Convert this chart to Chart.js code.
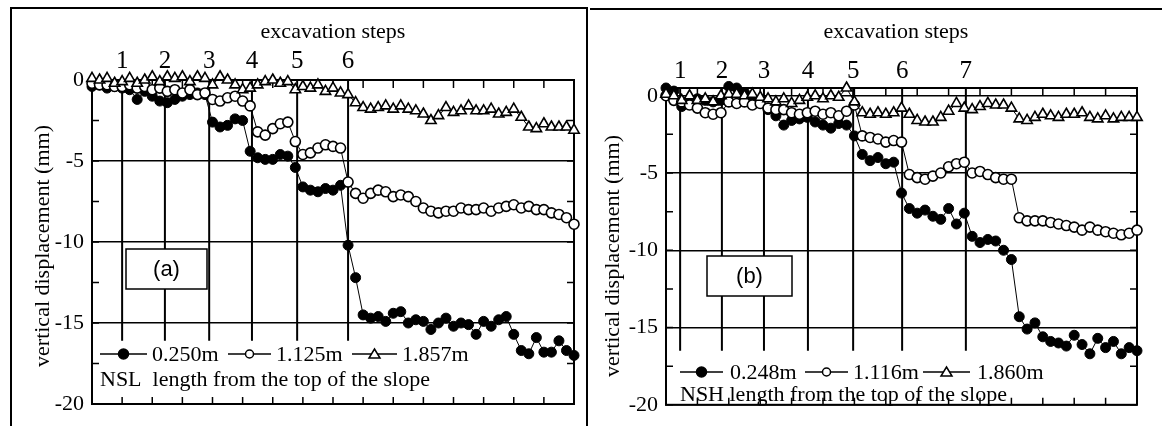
<!DOCTYPE html>
<html lang="en">
<head>
<meta charset="UTF-8">
<title>Vertical displacement during excavation</title>
<script src="https://cdn.jsdelivr.net/npm/chart.js@4.4.2/dist/chart.umd.min.js"></script>
<style>
  body { margin: 0; width: 1162px; height: 426px; background: #fff; position: relative; overflow: hidden; }
  .panel { position: absolute; top: 0; height: 426px; }
  #panelA { left: 0; width: 588px; }
  #panelB { left: 588px; width: 574px; }
  .rule { position: absolute; background: #000; }
</style>
</head>
<body>
  <div class="rule" style="left:10px; top:7px; width:578px; height:2px"></div>
  <div class="rule" style="left:10px; top:7px; width:2px; height:419px"></div>
  <div class="rule" style="left:586px; top:7px; width:2px; height:419px"></div>
  <div class="rule" style="left:590px; top:8px; width:572px; height:2px"></div>
  <div class="panel" id="panelA"><canvas id="chartA" width="588" height="426"></canvas></div>
  <div class="panel" id="panelB"><canvas id="chartB" width="574" height="426"></canvas></div>

<script>
// ---- panel (a) : NSL ----
const timeA = [0,0.25,0.5,0.75,1,1.25,1.5,1.75,2,2.25,2.5,2.75,3,3.25,3.5,3.75,4,4.25,4.5,4.75,
  5,5.25,5.5,5.75,6,6.25,6.5,6.75,7,7.25,7.5,7.75,8,8.25,8.5,8.75,9,9.25,9.5,9.75,
  10,10.25,10.5,10.75,11,11.25,11.5,11.75,12,12.25,12.5,12.75,13,13.25,13.5,13.75,14,14.25,14.5,14.75,
  15,15.25,15.5,15.75,16];
const nsl0250 = [-0.4,-0.3,-0.5,-0.4,-0.5,-0.6,-1.2,-0.7,-1.0,-1.3,
  -1.4,-1.2,-1.0,-0.9,-0.8,-0.9,-2.6,-2.9,-2.8,-2.4,
  -2.5,-4.4,-4.8,-4.9,-4.9,-4.6,-4.7,-5.4,-6.6,-6.8,
  -6.9,-6.7,-6.8,-6.5,-10.2,-12.2,-14.5,-14.7,-14.6,-14.9,
  -14.4,-14.3,-15.0,-14.8,-14.9,-15.4,-15.0,-14.7,-15.2,-15.0,
  -15.1,-15.7,-14.9,-15.2,-14.8,-14.6,-15.7,-16.7,-16.9,-15.9,
  -16.8,-16.8,-16.1,-16.7,-17.0];
const nsl1125 = [-0.2,-0.3,-0.3,-0.4,-0.4,-0.3,-0.5,-0.4,-0.6,-0.5,
  -0.7,-0.6,-0.8,-0.6,-0.9,-0.8,-1.2,-1.3,-1.1,-1.0,
  -1.3,-1.6,-3.2,-3.4,-3.0,-2.7,-2.6,-3.8,-4.6,-4.5,
  -4.2,-4.0,-4.1,-4.2,-6.3,-7.0,-7.3,-7.0,-6.8,-6.9,
  -7.2,-7.1,-7.2,-7.5,-7.9,-8.1,-8.2,-8.1,-8.1,-7.9,
  -8.0,-8.0,-7.9,-8.1,-7.9,-7.8,-7.7,-7.9,-7.8,-8.0,
  -8.0,-8.2,-8.3,-8.5,-8.9];
const nsl1857 = [0.1,0.0,0.1,-0.2,-0.1,0.1,-0.2,0.0,0.2,-0.1,
  0.2,0.1,0.2,-0.1,0.2,0.1,-0.3,0.2,0.0,-0.3,
  -0.6,-0.5,-0.3,-0.1,0.0,-0.2,-0.1,-0.6,-0.4,-0.5,
  -0.3,-0.7,-0.5,-0.8,-0.9,-1.4,-1.7,-1.8,-1.7,-1.6,
  -1.8,-1.6,-1.8,-1.9,-2.1,-2.5,-2.2,-1.7,-2.0,-1.9,
  -1.6,-1.9,-1.9,-1.8,-2.1,-2.0,-1.8,-2.3,-2.9,-3.0,
  -2.7,-2.9,-2.9,-2.9,-3.1];
const stepsA = [1.0, 2.42, 3.89, 5.31, 6.81, 8.5];
const stepLabelsA = ['1','2','3','4','5','6'];
const namesA = ['0.250m', '1.125m', '1.857m'];

// ---- panel (b) : NSH ----
const timeB = [0,0.25,0.5,0.75,1,1.25,1.5,1.75,2,2.25,2.5,2.75,3,3.25,3.5,3.75,4,4.25,4.5,4.75,
  5,5.25,5.5,5.75,6,6.25,6.5,6.75,7,7.25,7.5,7.75,8,8.25,8.5,8.75,9,9.25,9.5,9.75,
  10,10.25,10.5,10.75,11,11.25,11.5,11.75,12,12.25,12.5,12.75,13,13.25,13.5,13.75,14,14.25,14.5,14.75,15];
const nsh0248 = [0.5,0.3,-0.7,-0.3,-0.2,-0.3,-0.4,-0.3,0.6,0.5,
  0.2,-0.2,-0.3,-0.9,-1.3,-1.9,-1.6,-1.5,-1.4,-1.7,
  -1.9,-2.1,-1.8,-1.9,-2.6,-3.8,-4.2,-4.0,-4.4,-4.3,
  -6.3,-7.3,-7.6,-7.4,-7.8,-8.0,-7.3,-8.3,-7.6,-9.1,
  -9.5,-9.3,-9.4,-10.0,-10.6,-14.3,-15.1,-14.7,-15.6,-15.9,
  -16.0,-16.2,-15.5,-16.1,-16.7,-15.7,-16.3,-15.9,-16.7,-16.3,
  -16.5];
const nsh1116 = [0.0,-0.3,-0.4,-0.6,-0.8,-1.1,-1.2,-1.1,-0.4,-0.5,
  -0.4,-0.6,-0.5,-0.8,-0.9,-0.9,-1.1,-1.2,-1.1,-1.0,
  -1.2,-1.1,-1.3,-1.0,-0.6,-2.6,-2.7,-2.8,-3.0,-2.9,
  -3.0,-5.1,-5.3,-5.4,-5.2,-5.0,-4.6,-4.4,-4.3,-5.0,
  -4.9,-5.1,-5.3,-5.4,-5.4,-7.9,-8.1,-8.1,-8.1,-8.2,
  -8.3,-8.4,-8.5,-8.7,-8.5,-8.7,-8.8,-8.9,-9.0,-8.9,
  -8.7];
const nsh1860 = [0.1,0.0,-0.3,0.0,-0.3,-0.2,-0.4,0.0,0.1,0.1,
  0.0,0.1,-0.1,-0.2,-0.4,-0.2,-0.5,-0.3,-0.1,0.0,
  -0.2,0.0,-0.1,0.5,-0.4,-1.1,-1.2,-1.1,-1.2,-1.1,
  -0.8,-1.2,-1.6,-1.7,-1.7,-1.4,-1.0,-0.5,-0.8,-0.9,
  -0.7,-0.5,-0.6,-0.6,-0.8,-1.5,-1.6,-1.4,-1.2,-1.3,
  -1.4,-1.2,-1.2,-1.1,-1.4,-1.5,-1.3,-1.5,-1.4,-1.4,
  -1.4];
const stepsB = [0.45, 1.78, 3.12, 4.52, 5.96, 7.52, 9.55];
const stepLabelsB = ['1','2','3','4','5','6','7'];
const namesB = ['0.248m', '1.116m', '1.860m'];

// shared y ticks (labels only on multiples of 5)
const yTickVals = [-20, -17.5, -15, -12.5, -10, -7.5, -5, -2.5, 0];

const SERIF = "'Liberation Serif', 'Times New Roman', serif";
const SANS = "'Liberation Sans', Arial, sans-serif";

// marker look for the three gauges: filled circle, open circle, open triangle
const markers = [
  { pointStyle: 'circle', pointRadius: 5, pointBackgroundColor: '#000', pointBorderWidth: 1, order: 3 },
  { pointStyle: 'circle', pointRadius: 5, pointBackgroundColor: '#fff', pointBorderWidth: 1.6, order: 2 },
  { pointStyle: 'triangle', pointRadius: 6, pointBackgroundColor: '#fff', pointBorderWidth: 1.6, order: 1 }
];

function drawMarker(ctx, k, x, y) {
  ctx.beginPath();
  if (k === 2) {
    ctx.moveTo(x, y - 5); ctx.lineTo(x + 5.5, y + 4); ctx.lineTo(x - 5.5, y + 4); ctx.closePath();
  } else {
    ctx.arc(x, y, k === 0 ? 5 : 4, 0, Math.PI * 2);
  }
  ctx.fillStyle = k === 0 ? '#000' : '#fff';
  ctx.fill();
  ctx.lineWidth = 1.5;
  ctx.stroke();
}

function decor(p) {
  return {
    id: 'decor',
    beforeDatasetsDraw(chart) {
      const { ctx, chartArea: a, scales: { x, y } } = chart;
      ctx.save();
      ctx.strokeStyle = '#000';
      // excavation step lines
      ctx.lineWidth = 2;
      p.steps.forEach(s => {
        const px = x.getPixelForValue(s);
        ctx.beginPath();
        ctx.moveTo(px, a.top);
        ctx.lineTo(px, y.getPixelForValue(p.stepEnd));
        ctx.stroke();
      });
      // inward tick marks
      ctx.lineWidth = 1.5;
      for (let t = x.min; t <= x.max; t++) {
        const px = x.getPixelForValue(t);
        ctx.beginPath();
        ctx.moveTo(px, a.top); ctx.lineTo(px, a.top + 8);
        ctx.moveTo(px, a.bottom); ctx.lineTo(px, a.bottom - 7);
        ctx.stroke();
      }
      y.ticks.forEach(tk => {
        const py = y.getPixelForValue(tk.value);
        ctx.beginPath();
        ctx.moveTo(a.left, py); ctx.lineTo(a.left + 7, py);
        ctx.moveTo(a.right, py); ctx.lineTo(a.right - 7, py);
        ctx.stroke();
      });
      // frame
      ctx.lineWidth = 2;
      ctx.strokeRect(a.left, a.top, a.right - a.left, a.bottom - a.top);
      // (a)/(b) tag
      const b = p.tag;
      ctx.fillStyle = '#fff';
      ctx.fillRect(b.x, b.y, b.w, b.h);
      ctx.lineWidth = 1.5;
      ctx.strokeRect(b.x, b.y, b.w, b.h);
      ctx.fillStyle = '#000';
      ctx.font = '22px ' + SANS;
      ctx.textAlign = 'center';
      ctx.textBaseline = 'middle';
      ctx.fillText(b.text, b.x + b.w / 2, b.y + b.h / 2 + 1);
      ctx.restore();
    },
    afterDraw(chart) {
      const { ctx, scales: { x } } = chart;
      ctx.save();
      ctx.fillStyle = '#000';
      ctx.strokeStyle = '#000';
      ctx.textBaseline = 'middle';
      ctx.textAlign = 'center';
      ctx.font = '22px ' + SERIF;
      ctx.fillText('excavation steps', p.headX, 32);
      ctx.font = '25px ' + SERIF;
      p.steps.forEach((s, i) => ctx.fillText(p.stepLabels[i], x.getPixelForValue(s), p.stepLabelY));
      // y axis title
      ctx.save();
      ctx.translate(p.titleX, p.titleY);
      ctx.rotate(-Math.PI / 2);
      ctx.font = '22px ' + SERIF;
      ctx.fillText('vertical displacement (mm)', 0, 0);
      ctx.restore();
      // legend
      ctx.textAlign = 'left';
      ctx.font = '22px ' + SERIF;
      const L = p.legend;
      L.items.forEach((it, k) => {
        ctx.lineWidth = 1.5;
        ctx.beginPath();
        ctx.moveTo(it.x0, L.row1); ctx.lineTo(it.x1, L.row1);
        ctx.stroke();
        drawMarker(ctx, k, (it.x0 + it.x1) / 2, L.row1);
        ctx.fillStyle = '#000';
        ctx.fillText(p.names[k], it.tx, L.row1 + 1);
      });
      ctx.fillText(L.caption, L.capX, L.row2);
      ctx.restore();
    }
  };
}

function buildChart(id, p) {
  return new Chart(document.getElementById(id), {
    type: 'line',
    data: {
      datasets: p.series.map((vals, k) => Object.assign({
        label: p.names[k],
        data: vals.map((v, i) => ({ x: p.time[i], y: v })),
        borderColor: '#000',
        borderWidth: 1,
        pointBorderColor: '#000',
        tension: 0,
        clip: false
      }, markers[k]))
    },
    options: {
      responsive: false,
      animation: false,
      events: [],
      layout: { padding: p.pad },
      plugins: { legend: { display: false }, tooltip: { enabled: false } },
      scales: {
        x: { type: 'linear', display: false, min: 0, max: p.xMax },
        y: {
          min: -20, max: p.yMax,
          afterFit: s => { s.width = p.axisW; },
          afterBuildTicks: s => { s.ticks = yTickVals.map(v => ({ value: v })); },
          ticks: {
            autoSkip: false, padding: 8, color: '#000',
            font: { family: SERIF, size: 22 },
            callback: v => (v % 5 === 0 ? String(v) : '')
          },
          grid: {
            drawTicks: false, lineWidth: 1.5,
            color: c => (c.tick && c.tick.value % 5 === 0 ? '#000' : 'rgba(0,0,0,0)')
          },
          border: { color: '#000', width: 2 }
        }
      }
    },
    plugins: [decor(p)]
  });
}

buildChart('chartA', {
  time: timeA, series: [nsl0250, nsl1125, nsl1857], names: namesA,
  steps: stepsA, stepLabels: stepLabelsA, stepEnd: -16.1, stepLabelY: 61,
  xMax: 16, yMax: 0, axisW: 92, pad: { left: 0, top: 80, right: 14, bottom: 22 },
  headX: 333, titleX: 43, titleY: 246,
  tag: { x: 126, y: 249, w: 81, h: 40, text: '(a)' },
  legend: {
    row1: 354, row2: 380, capX: 100, caption: 'NSL  length from the top of the slope',
    items: [{ x0: 100, x1: 147, tx: 152 }, { x0: 228, x1: 271, tx: 276 }, { x0: 352, x1: 397, tx: 402 }]
  }
});

buildChart('chartB', {
  time: timeB, series: [nsh0248, nsh1116, nsh1860], names: namesB,
  steps: stepsB, stepLabels: stepLabelsB, stepEnd: -16.5, stepLabelY: 71,
  xMax: 15, yMax: 0.5, axisW: 78, pad: { left: 0, top: 88, right: 25, bottom: 16 },
  headX: 308, titleX: 25, titleY: 256,
  tag: { x: 119, y: 256, w: 85, h: 40, text: '(b)' },
  legend: {
    row1: 372, row2: 395, capX: 92, caption: 'NSH length from the top of the slope',
    items: [{ x0: 92, x1: 135, tx: 142 }, { x0: 217, x1: 260, tx: 265 }, { x0: 335, x1: 382, tx: 389 }]
  }
});
</script>
</body>
</html>
